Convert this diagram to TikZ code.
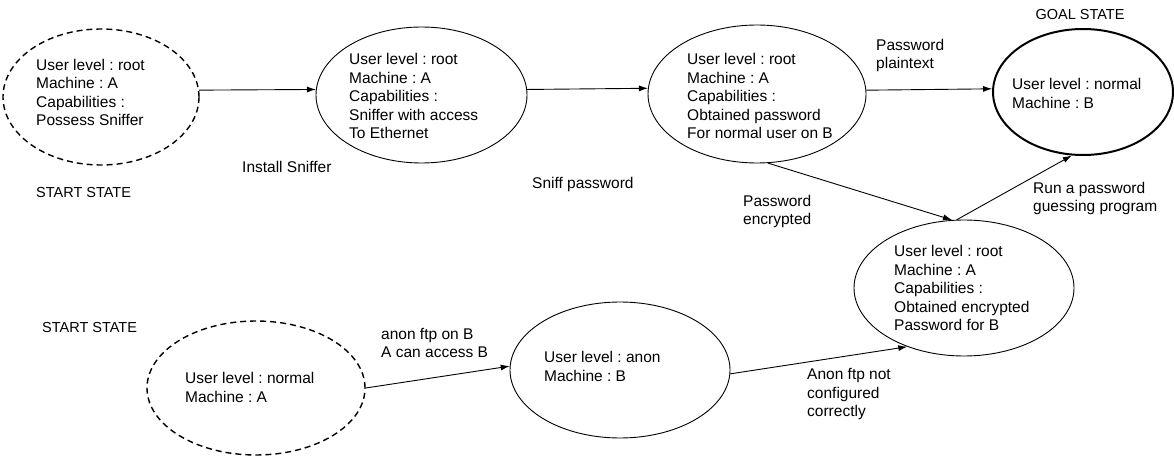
\documentclass[tikz,border=0pt]{standalone}
\usepackage{fontspec}
\setmainfont{Liberation Sans}
\usetikzlibrary{shapes.geometric,arrows.meta}
\begin{document}
\frenchspacing
\begin{tikzpicture}[x=1pt,y=-1pt,
  state/.style={draw,ellipse,inner sep=0pt,line width=0.9pt},
  startst/.style={state,dash pattern=on 6pt off 4pt,line width=1.4pt},
  goalst/.style={state,line width=2pt},
  txt/.style={anchor=west,align=left,inner sep=0pt,font=\fontsize{15.5}{18.5}\selectfont},
  lbl/.style={anchor=west,align=left,inner sep=0pt,font=\fontsize{14.5}{18.5}\selectfont},
  arr/.style={-{Latex[length=9pt,width=6pt]},line width=0.9pt}]
\useasboundingbox (0,0) rectangle (1174,457);

% states
\node[startst,minimum width=196pt,minimum height=136pt] (e1) at (101,97) {};
\node[state,minimum width=211pt,minimum height=136pt] (e2) at (421.5,95) {};
\node[state,minimum width=218pt,minimum height=138pt] (e3) at (757,94) {};
\node[goalst,minimum width=180pt,minimum height=126pt] (goal) at (1083,92) {};
\node[state,minimum width=220pt,minimum height=136pt] (e4) at (964,288) {};
\node[startst,minimum width=218pt,minimum height=134pt] (e5) at (256,388) {};
\node[state,minimum width=220pt,minimum height=136pt] (e6) at (620,370) {};

% state texts
\node[txt] (t1) at (36,92.5) {User level : root\\Machine : A\\Capabilities :\\Possess Sniffer};
\node[txt] (t2) at (349,96.4) {User level : root\\Machine : A\\Capabilities :\\Sniffer with access\\To Ethernet};
\node[txt] (t3) at (687,96.4) {User level : root\\Machine : A\\Capabilities :\\Obtained password\\For normal user on B};
\node[txt] (tg) at (1012,93.5) {User level : normal\\Machine : B};
\node[txt] (t4) at (894,288) {User level : root\\Machine : A\\Capabilities :\\Obtained encrypted\\Password for B};
\node[txt] (t5) at (185,387.5) {User level : normal\\Machine : A};
\node[txt] (t6) at (544,366.5) {User level : anon\\Machine : B};

% state labels
\node[lbl] (s1) at (36,193) {START STATE};
\node[lbl] (s2) at (42,328) {START STATE};
\node[lbl,anchor=center] (sg) at (1080,15) {GOAL STATE};

% connectors
\draw[arr] (e1.4.1) -- (e2.177.3);
\draw[arr] (e2.3.3) -- (e3.177.4);
\draw[arr] (e3.2.1) -- (goal.178.7);
\draw[arr] (e3.-81) -- (e4.100);
\draw[arr] (e4.96) -- (goal.260);
\draw[arr] (e5.0) -- (e6.178);
\draw[arr] (e6.-2.6) -- (e4.226);

% connector labels
\node[txt] (l1) at (242,167) {Install Sniffer};
\node[txt] (l2) at (532,184) {Sniff password};
\node[txt] (l3) at (876,55.5) {Password\\plaintext};
\node[txt] (l4) at (743,211.5) {Password\\encrypted};
\node[txt] (l5) at (1033,198.5) {Run a password\\guessing program};
\node[txt] (l6) at (381,343) {anon ftp on B\\A can access B};
\node[txt] (l7) at (807,394) {Anon ftp not\\configured\\correctly};
\end{tikzpicture}
\end{document}
